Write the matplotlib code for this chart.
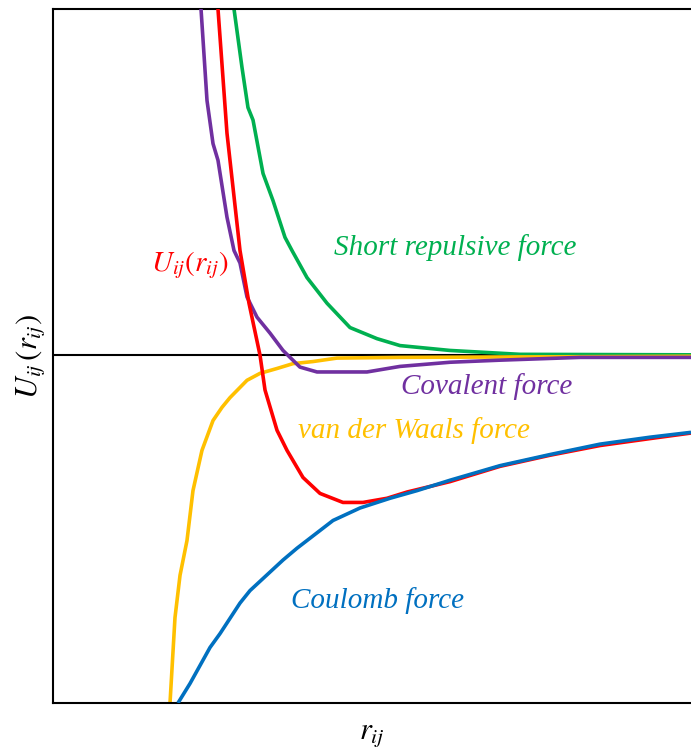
import matplotlib
matplotlib.use("Agg")
import matplotlib.pyplot as plt

plt.rcParams["font.family"] = ["Liberation Serif", "DejaVu Serif"]
plt.rcParams["mathtext.fontset"] = "stix"

# curves (arbitrary units; x 0..10, y -5..5)
total_x = [2.571, 2.586, 2.727, 2.931, 3.072, 3.245, 3.323, 3.511, 3.668, 3.918, 4.185,
           4.545, 4.859, 5.235, 5.549, 6.223, 7.006, 7.790, 8.574, 9.357, 10.0]
total_y = [5.19, 4.99, 3.20, 1.51, 0.75, 0.0, -0.50, -1.08, -1.37, -1.76, -1.99,
           -2.12, -2.12, -2.06, -1.97, -1.82, -1.60, -1.44, -1.30, -1.20, -1.12]

coul_x = [1.959, 2.147, 2.461, 2.618, 2.931, 3.088, 3.605, 3.824, 4.389, 4.812, 5.282,
          5.705, 6.223, 7.006, 7.790, 8.574, 9.357, 10.0]
coul_y = [-5.01, -4.73, -4.21, -4.01, -3.57, -3.39, -2.95, -2.78, -2.38, -2.20, -2.06,
          -1.95, -1.80, -1.59, -1.43, -1.28, -1.18, -1.11]

vdw_x = [1.834, 1.912, 1.991, 2.100, 2.194, 2.335, 2.508, 2.649, 2.774, 3.041, 3.245,
         3.511, 3.762, 4.075, 4.451, 5.439, 10.0]
vdw_y = [-5.01, -3.78, -3.17, -2.67, -1.95, -1.37, -0.94, -0.75, -0.61, -0.36, -0.26,
         -0.19, -0.12, -0.09, -0.04, -0.03, -0.014]

rep_x = [2.821, 2.837, 2.962, 3.056, 3.135, 3.292, 3.448, 3.636, 3.746, 3.981, 4.295,
         4.655, 5.078, 5.439, 6.223, 7.006, 7.320, 10.0]
rep_y = [5.19, 4.99, 4.15, 3.57, 3.39, 2.62, 2.23, 1.70, 1.51, 1.12, 0.75,
         0.40, 0.24, 0.14, 0.07, 0.03, 0.014, 0.007]

cov_x = [2.304, 2.320, 2.414, 2.508, 2.586, 2.727, 2.837, 2.931, 3.041, 3.197, 3.401,
         3.605, 3.871, 4.138, 4.922, 5.439, 6.223, 7.006, 8.260, 10.0]
cov_y = [5.19, 4.99, 3.67, 3.05, 2.81, 1.99, 1.51, 1.33, 0.84, 0.55, 0.32,
         0.07, -0.17, -0.24, -0.24, -0.16, -0.10, -0.07, -0.03, -0.03]

RED, GREEN, PURPLE, YELLOW, BLUE = "#FF0000", "#00B050", "#7030A0", "#FFC000", "#0070C0"

fig = plt.figure(figsize=(6.91, 7.49), dpi=100)
ax = fig.add_axes([0.0767, 0.0614, 0.9233, 0.9266])

ax.axhline(0, color="black", lw=1.5, zorder=1)
lw = 2.6
kw = dict(lw=lw, solid_joinstyle="round", solid_capstyle="butt")
ax.plot(rep_x, rep_y, color=GREEN, zorder=2, **kw)
ax.plot(vdw_x, vdw_y, color=YELLOW, zorder=2, **kw)
ax.plot(cov_x, cov_y, color=PURPLE, zorder=3, **kw)
ax.plot(total_x, total_y, color=RED, zorder=3, **kw)
ax.plot(coul_x, coul_y, color=BLUE, zorder=4, **kw)

ax.text(6.30, 1.56, "Short repulsive force", color=GREEN, fontsize=21, style="italic",
        ha="center", va="center")
ax.text(2.15, 1.30, r"$U_{ij}(r_{ij})$", color=RED, fontsize=21, ha="center", va="center")
ax.text(6.80, -0.45, "Covalent force", color=PURPLE, fontsize=21, style="italic",
        ha="center", va="center")
ax.text(5.66, -1.08, "van der Waals force", color=YELLOW, fontsize=21, style="italic",
        ha="center", va="center")
ax.text(5.08, -3.54, "Coulomb force", color=BLUE, fontsize=21, style="italic",
        ha="center", va="center")

ax.set_xlim(0, 10)
ax.set_ylim(-5.01, 4.99)
ax.set_xticks([])
ax.set_yticks([])
ax.spines["right"].set_visible(False)
for s in ("left", "top", "bottom"):
    ax.spines[s].set_linewidth(1.5)

ax.set_xlabel(r"$r_{ij}$", fontsize=22, labelpad=12)
ax.set_ylabel(r"$U_{ij}\,(r_{ij})$", fontsize=22, labelpad=4)

fig.savefig("out.png", dpi=100)
